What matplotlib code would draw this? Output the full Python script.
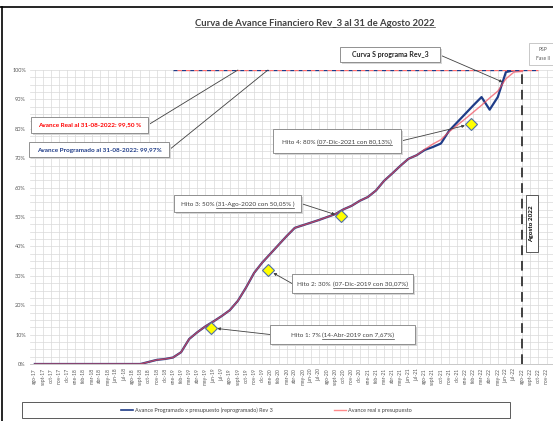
import matplotlib
matplotlib.use("Agg")
import matplotlib.pyplot as plt
import matplotlib.patches as mpatches
from matplotlib.lines import Line2D

plt.rcParams["font.family"] = ["Lato", "DejaVu Sans"]

W, H = 553, 421

# ── datos ──
meses = ["ago-17", "sept-17", "oct-17", "nov-17", "dic-17",
         "ene-18", "feb-18", "mar-18", "abr-18", "may-18", "jun-18",
         "jul-18", "ago-18", "sept-18", "oct-18", "nov-18", "dic-18",
         "ene-19", "feb-19", "mar-19", "abr-19", "may-19", "jun-19",
         "jul-19", "ago-19", "sept-19", "oct-19", "nov-19", "dic-19",
         "ene-20", "feb-20", "mar-20", "abr-20", "may-20", "jun-20",
         "jul-20", "ago-20", "sept-20", "oct-20", "nov-20", "dic-20",
         "ene-21", "feb-21", "mar-21", "abr-21", "may-21", "jun-21",
         "jul-21", "ago-21", "sept-21", "oct-21", "nov-21", "dic-21",
         "ene-22", "feb-22", "mar-22", "abr-22", "may-22", "jun-22",
         "jul-22", "ago-22", "sept-22", "oct-22", "nov-22"]

avance_programado = [0, 0, 0, 0, 0, 0, 0, 0, 0, 0, 0, 0, 0, 0,
                     0.7, 1.4, 1.7, 2.2, 4.0, 8.5, 10.8, 12.8, 14.5, 16.3,
                     18.3, 21.5, 26.0, 31.0, 34.5, 37.5, 40.5, 43.5, 46.3,
                     47.2, 48.1, 49.0, 50.0, 51.0, 52.6, 53.8, 55.5, 56.8,
                     59.0, 62.3, 64.8, 67.4, 69.8, 71.0, 72.8, 73.8, 75.0,
                     79.3, 82.2, 85.1, 88.0, 90.8, 86.5, 90.8, 99.3, 99.9,
                     99.97]

avance_real = [0, 0, 0, 0, 0, 0, 0, 0, 0, 0, 0, 0, 0, 0,
               0.7, 1.4, 1.7, 2.2, 4.0, 8.5, 10.8, 12.8, 14.5, 16.3,
               18.3, 21.5, 26.0, 31.0, 34.5, 37.5, 40.5, 43.5, 46.3,
               47.2, 48.1, 49.0, 50.0, 51.0, 52.6, 53.8, 55.5, 56.8,
               59.0, 62.3, 64.8, 67.4, 69.8, 71.0, 73.0, 74.8, 76.3,
               79.0, 81.2, 83.4, 85.7, 88.0, 90.5, 92.8, 97.0, 99.3,
               99.5]

hitos_x = [21.7, 28.7, 37.7, 53.7]
hitos_y = [12.3, 32.0, 50.2, 81.6]
hitos_pre = ["Hito 1: 7% ", "Hito 2: 30% ", "Hito 3: 50% ", "Hito 4: 80% "]
hitos_sub = ["(14-Abr-2019 con 7,67%)", "(07-Dic-2019 con 30,07%)",
             "(31-Ago-2020 con 50,05% )", "(07-Dic-2021 con 80,13%)"]

meta_x = [17, 62]
meta_y = [100, 100]
corte_x = [60, 60]
corte_y = [0, 100]

AZUL = "#1F3C88"
ROJO = "#F04A5A"
GRIS = "#595959"

fig = plt.figure(figsize=(W / 100, H / 100), dpi=100)
fig.patch.set_facecolor("white")
ax = fig.add_axes([30 / W, 57 / H, (553 - 30) / W, (364 - 70) / H])

x = list(range(len(avance_programado)))
ax.plot(x, avance_programado, color=AZUL, lw=1.6, zorder=3)
ax.plot(x, avance_real, color=ROJO, lw=1.0, alpha=0.7, zorder=4)

# linea 100 %
ax.plot(meta_x, meta_y, color=AZUL, lw=1.0, ls=(0, (3, 3)), zorder=3)
ax.plot(meta_x, meta_y, color="#FF6B6B", lw=1.0, ls=(3, (3, 3)), zorder=3)

# corte agosto 2022
ax.plot(corte_x, corte_y, color="#404040", lw=1.4, ls=(0, (5, 3)), zorder=3)

ax.plot(hitos_x, hitos_y, "D", ms=6, mfc="#FFFF00", mec="#4F6FA8",
        mew=0.8, ls="none", zorder=6)

ax.set_xlim(-0.6, 63.8)
ax.set_ylim(0, 100)
ax.set_xticks(range(len(meses)))
ax.set_xticklabels(meses, rotation=90, fontsize=3.6, color=GRIS)
ax.set_yticks(range(0, 101, 10))
ax.set_yticklabels([f"{v}%" for v in range(0, 101, 10)], fontsize=4, color=GRIS)
ax.set_yticks([v * 2.5 for v in range(41)], minor=True)
ax.tick_params(length=0, pad=3)
ax.tick_params(which="minor", length=0)
ax.grid(True, which="both", color="#D9D9D9", lw=0.5)
ax.set_axisbelow(True)
for s in ["top", "right", "left"]:
    ax.spines[s].set_visible(False)
ax.spines["bottom"].set_color("#BFBFBF")
ax.spines["bottom"].set_linewidth(0.6)

renderer = fig.canvas.get_renderer()


def fx(px):
    return px / W


def fy(py):
    return 1 - py / H


def caja(x0, y0, x1, y1, sombra=True, borde="#808080"):
    if sombra:
        fig.add_artist(mpatches.Rectangle(
            (fx(x0 + 1.5), fy(y1 + 1.5)), (x1 - x0) / W, (y1 - y0) / H,
            transform=fig.transFigure, facecolor="#D6D6D6",
            edgecolor="none", zorder=7))
    fig.add_artist(mpatches.Rectangle(
        (fx(x0), fy(y1)), (x1 - x0) / W, (y1 - y0) / H,
        transform=fig.transFigure, facecolor="white", edgecolor=borde,
        lw=0.6, zorder=8))


def texto_sub(cx, cy, pre, sub, size, color, weight="normal"):
    t1 = fig.text(0, 0, pre, fontsize=size, color=color, fontweight=weight,
                  ha="left", va="baseline", zorder=9)
    t2 = fig.text(0, 0, sub, fontsize=size, color=color, fontweight=weight,
                  ha="left", va="baseline", zorder=9)
    w1 = t1.get_window_extent(renderer).width if pre else 0
    w2 = t2.get_window_extent(renderer).width
    left = cx - (w1 + w2) / 2
    base = cy + size * 0.45 * 100 / 72
    t1.set_position((fx(left), fy(base)))
    t2.set_position((fx(left + w1), fy(base)))
    fig.add_artist(Line2D([fx(left + w1), fx(left + w1 + w2)],
                          [fy(base + 1.2), fy(base + 1.2)],
                          transform=fig.transFigure, color=color, lw=0.5,
                          zorder=9))


# ── título ──
texto_sub(315, 22, "", "Curva de Avance Financiero Rev_3 al 31 de Agosto 2022",
          6.8, "#404040", "bold")

# ── marco ──
fig.add_artist(Line2D([0, 1], [fy(7), fy(7)], transform=fig.transFigure,
                      color="black", lw=1.2))
fig.add_artist(Line2D([fx(2), fx(2)], [0, fy(7)], transform=fig.transFigure,
                      color="black", lw=1.2))

# ── cajas de avance ──
caja(31, 117, 148, 133)
fig.text(fx(89.5), fy(125), "Avance Real al 31-08-2022: 99,50 %", fontsize=4.6,
         color="#FF0000", fontweight="bold", ha="center", va="center", zorder=9)
ax.annotate("", xy=(25, 100), xytext=(fx(148), fy(125)),
            textcoords="figure fraction",
            arrowprops=dict(arrowstyle="-", color="#404040", lw=0.6,
                            shrinkA=0, shrinkB=0))

caja(29, 142, 169, 157)
fig.text(fx(99), fy(150), "Avance Programado al 31-08-2022: 99,97%", fontsize=4.6,
         color=AZUL, fontweight="bold", ha="center", va="center", zorder=9)
ax.annotate("", xy=(28.7, 100), xytext=(fx(169), fy(150)),
            textcoords="figure fraction",
            arrowprops=dict(arrowstyle="-", color="#404040", lw=0.6,
                            shrinkA=0, shrinkB=0))

# ── curva S ──
caja(340, 47, 440, 62)
fig.text(fx(390), fy(55), "Curva S programa Rev_3", fontsize=5.0,
         color="#262626", fontweight="bold", ha="center", va="center", zorder=9)
ax.annotate("", xy=(57.6, 95.9), xytext=(fx(440), fy(55)),
            textcoords="figure fraction",
            arrowprops=dict(arrowstyle="-|>", color="#404040", lw=0.6,
                            mutation_scale=4, shrinkA=0, shrinkB=0))

# ── PSP ──
caja(529, 43, 556, 65, sombra=False, borde="#BFBFBF")
fig.text(fx(543), fy(49.5), "PSP", fontsize=3.6, color=GRIS,
         ha="center", va="center", zorder=9)
fig.text(fx(543), fy(58), "Fase II", fontsize=3.6, color=GRIS,
         ha="center", va="center", zorder=9)

# ── agosto 2022 ──
caja(526, 195, 538, 252, sombra=False, borde="#404040")
fig.text(fx(532), fy(223.5), "Agosto 2022", fontsize=4.6, color="black",
         fontweight="bold", rotation=90, ha="center", va="center", zorder=9)

# ── hitos ──
cajas_hitos = [(270, 325, 415, 344), (292, 274, 413, 293),
               (174, 195, 301, 212), (273, 129, 401, 153)]
for (x0, y0, x1, y1), pre, sub, hx, hy in zip(cajas_hitos, hitos_pre,
                                              hitos_sub, hitos_x, hitos_y):
    caja(x0, y0, x1, y1)
    texto_sub((x0 + x1) / 2, (y0 + y1) / 2, pre, sub, 4.6, "#404040")
    marcador_px = ax.transData.transform((hx, hy))[0]
    borde_x = x0 if fx(x0) * W > marcador_px else x1
    ax.annotate("", xy=(hx, hy), xytext=(fx(borde_x), fy((y0 + y1) / 2)),
                textcoords="figure fraction",
                arrowprops=dict(arrowstyle="-|>", color="#404040", lw=0.6,
                                mutation_scale=4, shrinkA=0, shrinkB=4.5),
                zorder=5)

# ── leyenda ──
caja(22, 402, 510, 418, sombra=False, borde="#404040")
handles = [Line2D([], [], color=AZUL, lw=1.2),
           Line2D([], [], color="#FF8A8A", lw=1.0)]
leg = fig.legend(handles, ["Avance Programado x presupuesto (reprogramado) Rev 3",
                           "Avance real x presupuesto"],
                 loc="center", bbox_to_anchor=(fx(266), fy(410)), ncol=2,
                 frameon=False, fontsize=4, handlelength=2.2,
                 columnspacing=11, handletextpad=0.3)
leg.set_zorder(10)
for t in leg.get_texts():
    t.set_color("#404040")

fig.savefig("out.png", dpi=100, facecolor="white")
